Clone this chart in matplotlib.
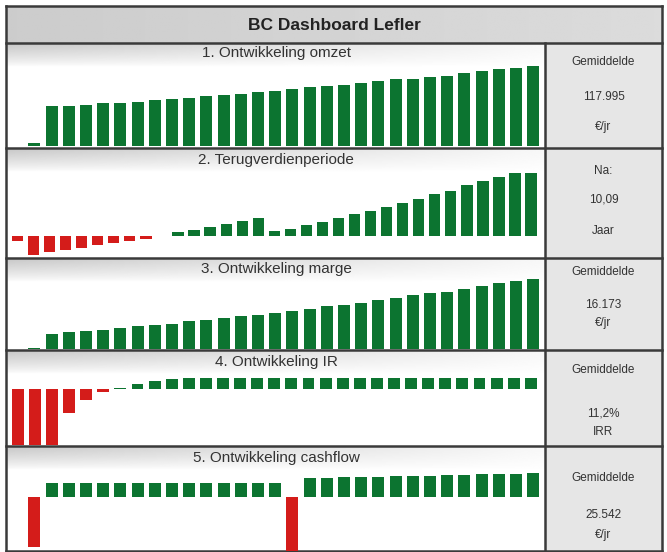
import numpy as np
import matplotlib
matplotlib.use("Agg")
import matplotlib.pyplot as plt

plt.rcParams["font.family"] = ["Liberation Sans", "DejaVu Sans"]

W, H = 667, 552

# ---- data ----
omzet = [5, 81, 82, 84, 88, 89, 91, 94, 97, 99, 103, 105, 107, 110, 114,
         117, 121, 123, 126, 130, 133, 137, 138, 142, 145, 150, 154, 158, 161, 165]  # k euro
terugverdien = [-57, -195, -167, -140, -123, -90, -73, -50, -30, -5,
                33, 60, 87, 117, 143, 177, 50, 68, 102, 138, 172, 212, 245,
                288, 322, 368, 412, 448, 502, 545, 588, 628, 628]  # k euro, cumulatief
marge = [0.5, 6.0, 6.6, 7.1, 7.4, 8.1, 8.8, 9.1, 9.8, 10.6, 11.2, 11.8, 12.5, 13.1,
         13.8, 14.6, 15.4, 16.4, 16.9, 17.8, 18.7, 19.4, 20.5, 21.5, 22.0, 23.1,
         24.1, 25.1, 26.0, 26.9]  # k euro
irr = [-100, -100, -100, -26, -11.8, -2.7, 1.6, 5.0, 8.9, 11.2, 11.4, 11.4, 11.4,
       11.4, 11.4, 11.4, 11.4, 11.4, 11.4, 11.4, 11.4, 11.4, 11.4, 11.4, 11.4,
       11.4, 11.4, 11.4, 11.4, 11.4, 11.4]  # %
cashflow = [-100, 28, 28, 28, 28, 28, 28, 28, 28, 28, 28, 28, 28, 28, 28,
            -130, 38, 39, 40, 40, 41, 42, 43, 43, 44, 45, 46, 46, 47, 48]  # k euro

titles = ["1. Ontwikkeling omzet", "2. Terugverdienperiode", "3. Ontwikkeling marge",
          "4. Ontwikkeling IR", "5. Ontwikkeling cashflow"]
kpi_texts = [("Gemiddelde", "117.995", "\u20ac/jr"),
             ("Na:", "10,09", "Jaar"),
             ("Gemiddelde", "16.173", "\u20ac/jr"),
             ("Gemiddelde", "11,2%", "IRR"),
             ("Gemiddelde", "25.542", "\u20ac/jr")]

GREEN = "#0c7430"
RED = "#d41c1a"
LINE = "#3a3a3a"

fig = plt.figure(figsize=(W / 100, H / 100), dpi=100)
fig.patch.set_facecolor("white")
bg = fig.add_axes([0, 0, 1, 1])
bg.set_xlim(0, W)
bg.set_ylim(H, 0)
bg.axis("off")

left, right, split = 6, 662, 545
rows = [43, 148, 258, 350, 446, 551]

# header band
hdr = np.tile(np.linspace(0.80, 0.86, 200), (20, 1))
bg.imshow(hdr, extent=(left, right, rows[0], 6), cmap="gray", vmin=0, vmax=1,
          aspect="auto", zorder=0)
bg.text((left + right) / 2, 25, "BC Dashboard Lefler", ha="center", va="center",
        fontsize=12.5, fontweight="bold", color="#222222")

# title bands + right column
h = np.linspace(0.78, 0.97, 300)
v = np.linspace(1, 0, 40) ** 0.8
band = 1 - (1 - h)[None, :] * v[:, None]
for i in range(5):
    top = rows[i]
    bg.imshow(band, extent=(left, split, top + 24, top), cmap="gray", vmin=0, vmax=1,
              aspect="auto", zorder=0)
    bg.add_patch(plt.Rectangle((split, top), right - split, rows[i + 1] - top,
                               facecolor="#e6e6e6", edgecolor="none", zorder=0))

# grid lines
for y in rows:
    bg.plot([left, right], [y, y], color=LINE, lw=1.8, zorder=5)
bg.plot([left, right], [6, 6], color=LINE, lw=1.8, zorder=5)
bg.plot([left, left], [6, H - 1], color=LINE, lw=1.8, zorder=5)
bg.plot([right, right], [6, H - 1], color=LINE, lw=1.8, zorder=5)
bg.plot([split, split], [rows[0], H - 1], color=LINE, lw=1.8, zorder=5)

# panel layout: (data, top px, bottom px, baseline px, units per px, first bar px, pitch px)
panels = [
    (omzet, 44, 147, 145.7, 2.066, 34.4, 17.2),
    (terugverdien, 149, 257, 235.5, 10.0, 17.5, 16.05),
    (marge, 259, 349.5, 349.3, 0.381, 34.4, 17.2),
    (irr, 351, 445, 389, 1.07, 17.8, 17.1),
    (cashflow, 447, 551, 497, 2.0, 34.4, 17.2),
]

title_y = [53, 160, 269, 362, 458]
kpi_y = [(62, 97, 127), (171, 200, 231), (272, 305, 323), (370, 414, 432), (478, 515, 535)]

for i, (vals, top, bot, base, unit, x0, pitch) in enumerate(panels):
    ax = fig.add_axes([8 / W, 1 - bot / H, (split - 9) / W, (bot - top) / H])
    ax.patch.set_alpha(0)
    vals = np.array(vals, dtype=float)
    x = np.arange(len(vals))
    cols = [GREEN if v >= 0 else RED for v in vals]
    ax.bar(x, vals, width=0.70, color=cols, edgecolor="none")
    ax.set_xlim((8 - x0) / pitch, (split - 1 - x0) / pitch)
    ax.set_ylim(-(bot - base) * unit, (base - top) * unit)
    ax.axis("off")

    bg.text(276, title_y[i], titles[i], ha="center", va="center", fontsize=11,
            color="#333333", zorder=6)
    for txt, ty in zip(kpi_texts[i], kpi_y[i]):
        bg.text((split + right) / 2, ty, txt, ha="center", va="center", fontsize=8.5,
                color="#333333", zorder=6)

fig.savefig("out.png", dpi=100)
